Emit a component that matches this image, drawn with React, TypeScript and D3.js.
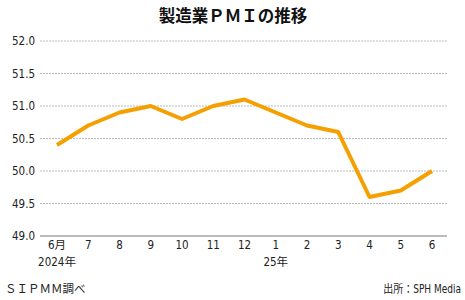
import React from "react";
import * as d3 from "d3";

const months = ["6月", "7", "8", "9", "10", "11", "12", "1", "2", "3", "4", "5", "6"];
const yearLabels = ["2024年", "", "", "", "", "", "", "25年", "", "", "", "", ""];
const pmi = [50.4, 50.7, 50.9, 51.0, 50.8, 51.0, 51.1, 50.9, 50.7, 50.6, 49.6, 49.7, 50.0];
const yTicks = [49.0, 49.5, 50.0, 50.5, 51.0, 51.5, 52.0];

const W = 465, H = 300;
const font = "'DejaVu Sans Condensed', 'Noto Sans CJK JP', sans-serif";

export default function App() {
  const x = d3.scaleLinear().domain([0, months.length - 1]).range([57, 432]);
  const y = d3.scaleLinear().domain([49, 52]).range([236, 41]);
  const line = d3.line<number>().x((_, i) => x(i)).y((d) => y(d));
  return (
    <svg width={W} height={H} style={{ position: "absolute", left: 0, top: 0 }}>
      <rect width={W} height={H} fill="#fff" />
      <text x={233} y={22} textAnchor="middle" fontSize={16.5} fontWeight="bold" fontFamily="'Noto Sans CJK JP', sans-serif" fill="#111">製造業ＰＭＩの推移</text>
      {yTicks.map((t) => (
        <g key={t}>
          {t !== 49 && (
            <line x1={40} x2={447} y1={y(t)} y2={y(t)} stroke="#bbb" strokeWidth={1} strokeDasharray="2,1" />
          )}
          <text x={35} y={y(t) + 4} textAnchor="end" fontSize={11.5} fontFamily={font} fill="#222">{t.toFixed(1)}</text>
        </g>
      ))}
      <line x1={40} x2={447} y1={236} y2={236} stroke="#bbb" strokeWidth={2} />
      {months.map((m, i) => (
        <g key={i}>
          <text x={x(i)} y={249} textAnchor="middle" fontSize={11.5} fontFamily={font} fill="#222">{m}</text>
          {yearLabels[i] && (
            <text x={x(i)} y={266} textAnchor="middle" fontSize={11.5} fontFamily={font} fill="#222">{yearLabels[i]}</text>
          )}
        </g>
      ))}
      <path d={line(pmi) || ""} fill="none" stroke="#F5A000" strokeWidth={4} strokeLinejoin="round" />
      <text x={5} y={293} fontSize={11.5} fontFamily={font} fill="#222">ＳＩＰＭＭ調べ</text>
      <g transform="translate(461,293) scale(0.87,1)">
        <text x={0} y={0} textAnchor="end" fontSize={11.5} fontFamily={font} fill="#222">出所：SPH Media</text>
      </g>
    </svg>
  );
}
